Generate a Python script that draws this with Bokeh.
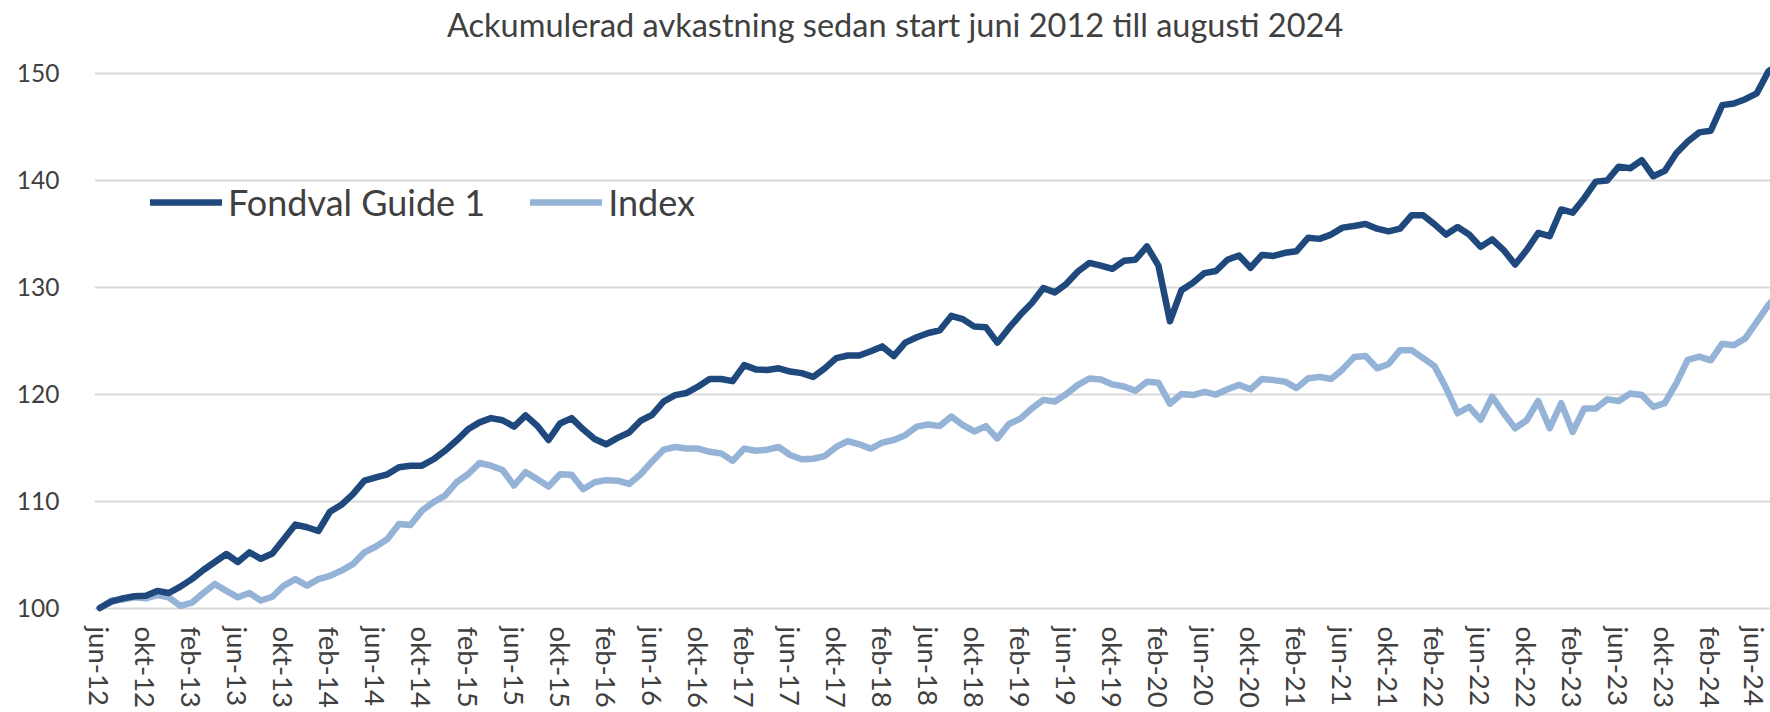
import math
from bokeh.plotting import figure
from bokeh.models import Range1d, FixedTicker, Legend, LegendItem, ColumnDataSource, Label
from bokeh.embed import file_html
from bokeh.resources import INLINE

title_text = "Ackumulerad avkastning sedan start juni 2012 till augusti 2024"
series_names = ["Fondval Guide 1", "Index"]

tick_labels = ["jun-12", "okt-12", "feb-13", "jun-13", "okt-13", "feb-14", "jun-14", "okt-14",
               "feb-15", "jun-15", "okt-15", "feb-16", "jun-16", "okt-16", "feb-17", "jun-17",
               "okt-17", "feb-18", "jun-18", "okt-18", "feb-19", "jun-19", "okt-19", "feb-20",
               "jun-20", "okt-20", "feb-21", "jun-21", "okt-21", "feb-22", "jun-22", "okt-22",
               "feb-23", "jun-23", "okt-23", "feb-24", "jun-24"]

# monthly values jun-12 .. aug-24
fondval = [100.0, 100.6, 100.9, 101.1, 101.15, 101.6, 101.4, 102.0, 102.7, 103.55,
           104.3, 105.05, 104.3, 105.2, 104.6, 105.1, 106.45, 107.8, 107.55, 107.2,
           109.0, 109.65, 110.65, 111.9, 112.2, 112.5, 113.15, 113.3, 113.3, 113.9,
           114.7, 115.65, 116.7, 117.35, 117.75, 117.55, 116.95, 118.0, 117.05, 115.7,
           117.25, 117.75, 116.7, 115.8, 115.3, 115.9, 116.4, 117.5, 118.05, 119.3,
           119.9, 120.1, 120.7, 121.4, 121.4, 121.2, 122.7, 122.3, 122.25, 122.4,
           122.1, 121.95, 121.6, 122.4, 123.35, 123.6, 123.6, 124.0, 124.45, 123.55,
           124.8, 125.3, 125.7, 125.95, 127.3, 127.0, 126.3, 126.25, 124.8, 126.15,
           127.4, 128.5, 129.9, 129.5, 130.3, 131.45, 132.25, 132.0, 131.7, 132.45,
           132.55, 133.8, 132.0, 126.8, 129.7, 130.4, 131.3, 131.5, 132.55, 132.95,
           131.8, 133.0, 132.9, 133.2, 133.35, 134.6, 134.5, 134.9, 135.55, 135.7,
           135.9, 135.45, 135.2, 135.45, 136.7, 136.7, 135.85, 134.9, 135.6, 134.9,
           133.75, 134.45, 133.45, 132.1, 133.45, 135.05, 134.75, 137.25, 136.95, 138.3,
           139.85, 139.95, 141.25, 141.1, 141.85, 140.35, 140.85, 142.5, 143.6, 144.45,
           144.6, 147.0, 147.15, 147.55, 148.1, 150.15, 150.9]

index = [100.0, 100.7, 100.8, 101.0, 100.9, 101.2, 101.0, 100.2, 100.5, 101.4,
         102.25, 101.6, 101.0, 101.4, 100.7, 101.05, 102.1, 102.7, 102.1, 102.7,
         103.0, 103.5, 104.1, 105.2, 105.75, 106.45, 107.85, 107.75, 109.1, 109.9,
         110.5, 111.75, 112.5, 113.55, 113.3, 112.9, 111.45, 112.7, 112.05, 111.35,
         112.5, 112.45, 111.1, 111.75, 111.95, 111.9, 111.6, 112.5, 113.7, 114.8,
         115.05, 114.9, 114.9, 114.6, 114.45, 113.75, 114.9, 114.7, 114.8, 115.05,
         114.3, 113.9, 113.95, 114.2, 115.05, 115.6, 115.3, 114.9, 115.45, 115.7,
         116.15, 116.95, 117.15, 117.0, 117.9, 117.1, 116.5, 117.0, 115.85, 117.2,
         117.7, 118.65, 119.45, 119.3, 120.0, 120.85, 121.45, 121.35, 120.9, 120.7,
         120.3, 121.15, 121.05, 119.1, 120.0, 119.9, 120.2, 119.95, 120.45, 120.85,
         120.45, 121.4, 121.3, 121.15, 120.55, 121.45, 121.6, 121.4, 122.3, 123.45,
         123.55, 122.4, 122.8, 124.1, 124.1, 123.35, 122.6, 120.55, 118.2, 118.8,
         117.6, 119.75, 118.2, 116.8, 117.55, 119.35, 116.8, 119.15, 116.45, 118.65,
         118.65, 119.5, 119.35, 120.05, 119.9, 118.8, 119.15, 121.0, 123.2, 123.5,
         123.15, 124.7, 124.55, 125.2, 126.75, 128.3, 129.5]

y_ticks = [100, 110, 120, 130, 140, 150]

months = list(range(len(fondval)))
src = ColumnDataSource(data=dict(m=months, fondval=fondval, index=index))

FONT = "Lato"
TXT = "#404040"

# frame spans from the canvas top to the x-axis; the title sits inside it, above the 150 grid line
p = figure(width=1770, height=712, output_backend="svg", toolbar_location=None,
           x_range=Range1d(-0.46, 145.19), y_range=Range1d(99.3, 156.777),
           min_border_left=94, min_border_right=0, min_border_top=0, min_border_bottom=97)
p.outline_line_color = None
p.background_fill_color = "white"
p.border_fill_color = "white"

# chart title (screen pixels, measured from the frame's bottom-left corner)
title = Label(text=title_text, x=800.6, y=591, x_units="screen", y_units="screen",
              text_align="center", text_baseline="alphabetic",
              text_font=FONT, text_font_size="32.5px", text_color=TXT)
p.add_layout(title)

# axes
p.yaxis.ticker = FixedTicker(ticks=y_ticks)
p.yaxis.axis_line_color = None
p.yaxis.major_tick_line_color = None
p.yaxis.minor_tick_line_color = None
p.yaxis.major_tick_out = 0
p.yaxis.major_label_standoff = 35
p.yaxis.major_label_text_font = FONT
p.yaxis.major_label_text_font_size = "24.5px"
p.yaxis.major_label_text_color = TXT

tick_pos = [4 * k for k in range(len(tick_labels))]
p.xaxis.ticker = FixedTicker(ticks=tick_pos)
p.xaxis.major_label_overrides = {t: lab for t, lab in zip(tick_pos, tick_labels)}
p.xaxis.major_label_orientation = -math.pi / 2
p.xaxis.axis_line_color = None
p.xaxis.major_tick_line_color = None
p.xaxis.minor_tick_line_color = None
p.xaxis.major_tick_out = 0
p.xaxis.major_label_standoff = 11
p.xaxis.major_label_text_font = FONT
p.xaxis.major_label_text_font_size = "27.5px"
p.xaxis.major_label_text_color = TXT

p.xgrid.grid_line_color = None
p.ygrid.ticker = FixedTicker(ticks=y_ticks)
p.ygrid.grid_line_color = "#D9D9D9"
p.ygrid.grid_line_width = 2

r1 = p.line("m", "fondval", source=src, line_color="#1F497D", line_width=6.5,
            line_join="round", line_cap="round")
r2 = p.line("m", "index", source=src, line_color="#95B3D7", line_width=6.5,
            line_join="round", line_cap="round")
# draw fund on top
p.renderers = [r2, r1]

legend = Legend(items=[LegendItem(label=series_names[0], renderers=[r1]),
                       LegendItem(label=series_names[1], renderers=[r2])],
                location=(56, 391), orientation="horizontal")
legend.border_line_color = None
legend.background_fill_alpha = 0
legend.padding = 0
legend.margin = 0
legend.spacing = 45
legend.glyph_width = 72
legend.glyph_height = 36
legend.label_standoff = 6
legend.label_text_font = FONT
legend.label_text_font_size = "36px"
legend.label_text_color = TXT
p.add_layout(legend)

open("out.html", "w").write(file_html(p, INLINE))
